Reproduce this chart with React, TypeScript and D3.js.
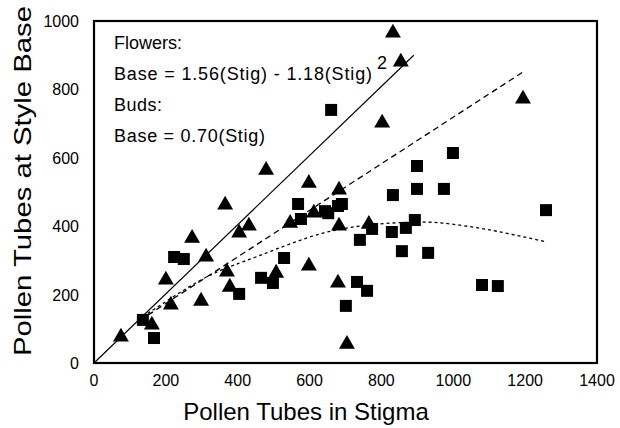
import React from "react";
import * as d3 from "d3";

const xTicks = [0, 200, 400, 600, 800, 1000, 1200, 1400];
const yTicks = [0, 200, 400, 600, 800, 1000];

const triangleX = [75, 161, 200, 214, 273, 298, 312, 365, 370, 378, 404, 431, 479, 507, 546, 598, 598, 612, 682, 682, 679, 704, 765, 802, 832, 854, 1194];
const triangleY = [79, 114, 246, 173, 368, 184, 313, 465, 269, 225, 383, 404, 567, 266, 412, 287, 529, 442, 509, 404, 237, 58, 409, 705, 968, 883, 775];

const squareX = [136, 167, 223, 250, 404, 465, 498, 529, 568, 576, 643, 652, 679, 690, 701, 660, 832, 899, 974, 1258, 774, 829, 868, 893, 740, 857, 930, 732, 760, 1080, 1124, 999, 899];
const squareY = [126, 73, 310, 304, 202, 249, 234, 307, 465, 421, 444, 438, 459, 465, 167, 740, 491, 509, 509, 447, 392, 383, 395, 418, 360, 327, 322, 237, 211, 228, 225, 614, 576];

const solidX = [0, 890];
const solidY = [0, 900];
const dashedX = [150, 1200];
const dashedY = [140, 855];
const dottedX = [150, 314, 453, 638, 768, 916, 971, 1102, 1260];
const dottedY = [145, 252, 311, 380, 404, 412, 409, 389, 354];

const annotLines = ["Flowers:", "Base = 1.56(Stig) - 1.18(Stig)", "Buds:", "Base = 0.70(Stig)"];
const annotLengths = [68, 258, 48, 151];

export default function App() {
  const W = 620, H = 428;
  const x = d3.scaleLinear().domain([0, 1400]).range([94, 597]);
  const y = d3.scaleLinear().domain([0, 1000]).range([363, 21]);
  const font = "'Liberation Sans', Arial, Helvetica, sans-serif";

  const lineGen = d3.line<[number, number]>().x((d) => x(d[0])).y((d) => y(d[1]));
  const curveGen = d3
    .line<[number, number]>()
    .x((d) => x(d[0]))
    .y((d) => y(d[1]))
    .curve(d3.curveCatmullRom.alpha(0.5));

  const zip = (a: number[], b: number[]) => a.map((v, i) => [v, b[i]] as [number, number]);
  const tri = d3.symbol().type(d3.symbolTriangle).size(110);
  const sq = d3.symbol().type(d3.symbolSquare).size(144);

  return (
    <svg width={W} height={H} style={{ position: "absolute", left: 0, top: 0, background: "#fff" }} fontFamily={font}>
      <rect x={0} y={0} width={W} height={H} fill="#fff" />
      {/* lines */}
      <path d={lineGen(zip(solidX, solidY)) || ""} fill="none" stroke="#000" strokeWidth={1.2} />
      <path d={lineGen(zip(dashedX, dashedY)) || ""} fill="none" stroke="#000" strokeWidth={1.3} strokeDasharray="6,4" />
      <path d={curveGen(zip(dottedX, dottedY)) || ""} fill="none" stroke="#000" strokeWidth={1.3} strokeDasharray="3,3" />
      {/* points */}
      {zip(squareX, squareY).map((d, i) => (
        <path key={"s" + i} d={sq() || ""} transform={`translate(${x(d[0])},${y(d[1])})`} fill="#000" />
      ))}
      {zip(triangleX, triangleY).map((d, i) => (
        <path key={"t" + i} d={tri() || ""} transform={`translate(${x(d[0])},${y(d[1]) + 1})`} fill="#000" />
      ))}
      {/* frame */}
      <rect x={94} y={21} width={503} height={342} fill="none" stroke="#000" strokeWidth={2.2} />
      {/* ticks */}
      {xTicks.map((t) => (
        <text key={"x" + t} x={x(t)} y={386} textAnchor="middle" fontSize={16}>
          {t}
        </text>
      ))}
      {yTicks.map((t) => (
        <text key={"y" + t} x={79} y={y(t) + 6} textAnchor="end" fontSize={16}>
          {t}
        </text>
      ))}
      {/* annotations */}
      {annotLines.map((s, i) => (
        <text key={"a" + i} x={114} y={49 + i * 31} fontSize={18} textLength={annotLengths[i]} lengthAdjust="spacing">
          {s}
        </text>
      ))}
      <text x={377} y={69} fontSize={18}>2</text>
      {/* axis titles */}
      <text x={306} y={420} textAnchor="middle" fontSize={24}>
        Pollen Tubes in Stigma
      </text>
      <text transform="translate(31,181) rotate(-90)" textAnchor="middle" fontSize={24} textLength={350} lengthAdjust="spacingAndGlyphs">
        Pollen Tubes at Style Base
      </text>
    </svg>
  );
}
